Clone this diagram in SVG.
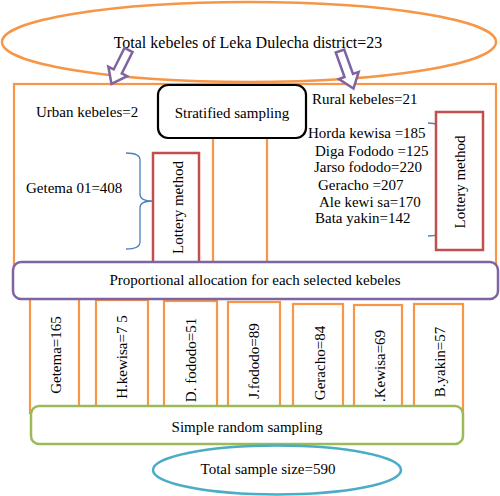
<svg xmlns="http://www.w3.org/2000/svg" width="500" height="496" viewBox="0 0 500 496">
<style>
text{font-family:"Liberation Serif","Times New Roman",serif;font-size:15px;fill:#000}
.or{fill:#fff;stroke:#f79646;stroke-width:2.2}
.orl{fill:none;stroke:#f79646;stroke-width:2.2}
.red{fill:#fff;stroke:#c0504d;stroke-width:2.5}
.brace{fill:none;stroke:#4f81bd;stroke-width:1.3}
.arr{fill:#fff;stroke:#8064a2;stroke-width:2.5;stroke-linejoin:miter}
.mid{text-anchor:middle}
</style>
<rect width="500" height="496" fill="#fff"/>
<g id="frame">
<rect class="or" x="14" y="84" width="482" height="185"/>
<line class="orl" x1="213" y1="138" x2="213" y2="265"/>
<line class="orl" x1="267" y1="138" x2="267" y2="265"/>
</g>
<g id="total-kebeles">
<ellipse cx="249" cy="42" rx="247" ry="40" fill="none" stroke="#f79646" stroke-width="2.5"/>
<text class="mid" x="248" y="48" style="font-size:16px">Total kebeles of Leka Dulecha district=23</text>
</g>
<g id="connectors">
<polygon class="arr" transform="translate(128.5,50) rotate(26.6)" points="-4.5,0 4.5,0 4.5,24 10.5,24 0,38 -10.5,24 -4.5,24"/>
<polygon class="arr" transform="translate(340,51) rotate(-19.7)" points="-4.5,0 4.5,0 4.5,26 10.5,26 0,40 -10.5,26 -4.5,26"/>
</g>
<g id="urban">
<text x="36" y="117">Urban kebeles=2</text>
<text x="26" y="193">Getema 01=408</text>
<path class="brace" d="M126,153 Q140,153 140,160 L140,194 Q140,201 152,201 Q140,201 140,208 L140,242 Q140,249 126,249"/>
</g>
<g id="lottery-left">
<rect class="red" x="153" y="153" width="46" height="115"/>
<text class="mid" transform="translate(183,207.5) rotate(-90)">Lottery method</text>
</g>
<g id="stratified">
<rect x="158" y="85" width="148" height="53" rx="10" fill="#fff" stroke="#000" stroke-width="2.2"/>
<text class="mid" x="232" y="118">Stratified sampling</text>
</g>
<g id="rural">
<text x="312" y="104">Rural kebeles=21</text>
<text x="308" y="138">Horda kewisa =185</text>
<text x="315" y="156">Diga Fododo =125</text>
<text x="314" y="172">Jarso fododo=220</text>
<text x="318" y="190">Geracho =207</text>
<text x="319" y="207">Ale kewi sa=170</text>
<text x="315" y="223">Bata yakin=142</text>
<path class="brace" d="M428,123 Q441,123 441,130 L441,172 Q441,179 453,179 Q441,179 441,186 L441,229 Q441,236 428,236"/>
</g>
<g id="lottery-right">
<rect class="red" x="436" y="112" width="47" height="138"/>
<text class="mid" transform="translate(465,182) rotate(-90)">Lottery method</text>
</g>
<g id="bottom-boxes">
<rect class="or" x="30" y="298" width="49" height="115"/>
<rect class="or" x="96" y="300" width="52" height="113"/>
<rect class="or" x="164" y="301" width="53" height="112"/>
<rect class="or" x="228" y="302" width="52" height="111"/>
<rect class="or" x="293" y="304" width="50" height="109"/>
<rect class="or" x="354" y="305" width="48" height="108"/>
<rect class="or" x="414" y="304" width="49" height="109"/>
<text class="mid" transform="translate(61,355) rotate(-90)">Getema=165</text>
<text class="mid" transform="translate(127,357) rotate(-90)">H.kewisa=7 5</text>
<text class="mid" transform="translate(196,360) rotate(-90)">D. fododo=51</text>
<text class="mid" transform="translate(259,361) rotate(-90)">J.fododo=89</text>
<text class="mid" transform="translate(325,363) rotate(-90)">Geracho=84</text>
<text class="mid" transform="translate(385,366) rotate(-90)">.Kewisa=69</text>
<text class="mid" transform="translate(445,362) rotate(-90)">B.yakin=57</text>
</g>
<g id="proportional">
<rect x="13" y="262" width="485" height="37" rx="8" fill="#fff" stroke="#8064a2" stroke-width="2.5"/>
<text class="mid" x="255" y="285">Proportional allocation for each selected kebeles</text>
</g>
<g id="simple-random">
<rect x="31" y="406" width="432" height="38" rx="8" fill="#fff" stroke="#9bbb59" stroke-width="2.5"/>
<text class="mid" x="247" y="432">Simple random sampling</text>
</g>
<g id="total-sample">
<ellipse cx="277" cy="470" rx="124" ry="24.5" fill="#fff" stroke="#4bacc6" stroke-width="2.5"/>
<text class="mid" x="268" y="474">Total sample size=590</text>
</g>
</svg>
